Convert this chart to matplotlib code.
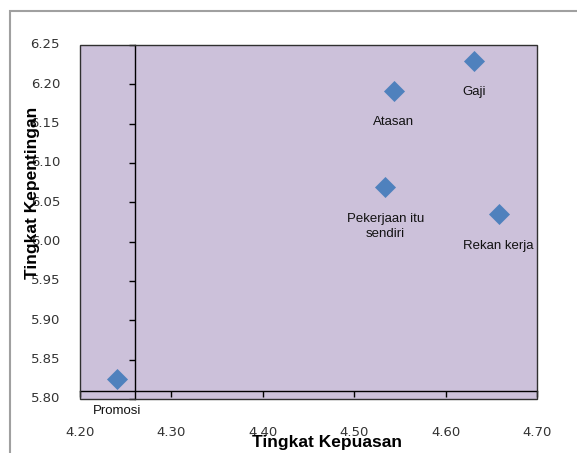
import numpy as np
import matplotlib
matplotlib.use('Agg')
import matplotlib.pyplot as plt
from matplotlib.patches import Rectangle

#data
names = ['Promosi', 'Atasan', 'Gaji', 'Pekerjaan itu\nsendiri', 'Rekan kerja']
kepuasan = [4.241, 4.543, 4.631, 4.534, 4.658]  #x values
kepentingan = [5.825, 6.192, 6.230, 6.069, 6.035]  #y values

x_ticks = [4.20, 4.30, 4.40, 4.50, 4.60, 4.70]
y_ticks = [5.80, 5.85, 5.90, 5.95, 6.00, 6.05, 6.10, 6.15, 6.20, 6.25]
x_cross = 4.26  #where the vertical axis crosses
y_cross = 5.81  #where the horizontal axis crosses

W, H = 577, 453
fig = plt.figure(figsize=(W / 100, H / 100), dpi=100)
ax = fig.add_axes([80 / W, 1 - 399 / H, (537 - 80) / W, (399 - 45) / H])
ax.set_facecolor('#ccc1da')

#outer chart border (cut off at the right and bottom)
fig.add_artist(Rectangle((10 / W, -0.1), 1.2, (H - 11) / H + 0.1, transform=fig.transFigure,
                         fill=False, edgecolor='#a0a0a0', lw=1.5))

ax.scatter(kepuasan, kepentingan, marker='D', s=115, color='#4f81bd', zorder=3, linewidths=0)

ax.set_xlim(x_ticks[0], x_ticks[-1])
ax.set_ylim(y_ticks[0], y_ticks[-1])

#axes crossing inside the plot
ax.spines['left'].set_position(('data', x_cross))
ax.spines['bottom'].set_position(('data', y_cross))
ax.spines['top'].set_visible(False)
ax.spines['right'].set_visible(False)
for s in ['left', 'bottom']:
    ax.spines[s].set_linewidth(1.0)
    ax.spines[s].set_color('black')
ax.add_patch(Rectangle((0, 0), 1, 1, transform=ax.transAxes, fill=False,
                       edgecolor='#303030', lw=1.0, zorder=4, clip_on=False))

ax.set_xticks(x_ticks)
ax.set_yticks(y_ticks)
ax.tick_params(direction='out', length=4, width=1, labelleft=False, labelbottom=False)

#tick labels sit at the plot edges (Excel "low" position)
for y in y_ticks:
    ax.annotate('%.2f' % y, xy=(0, y), xycoords=('axes fraction', 'data'), xytext=(-14.4, 0),
                textcoords='offset points', ha='right', va='center', fontsize=9.5, color='#333333')
for x in x_ticks:
    ax.annotate('%.2f' % x, xy=(x, 0), xycoords=('data', 'axes fraction'), xytext=(0, -23.8),
                textcoords='offset points', ha='center', va='center', fontsize=9.5, color='#333333')

#point labels
for n, x, y in zip(names, kepuasan, kepentingan):
    ax.annotate(n, xy=(x, y), xytext=(0, -18.5), textcoords='offset points', ha='center', va='top',
                fontsize=9.5, family='Liberation Sans', color='#111111', linespacing=1.35,
                annotation_clip=False)

fig.text(327 / W, 1 - 442 / H, 'Tingkat Kepuasan', ha='center', va='center', fontsize=12.5,
         fontweight='bold', family='Liberation Sans')
fig.text(33 / W, 1 - 193 / H, 'Tingkat Kepentingan', ha='center', va='center', rotation=90,
         fontsize=12.5, fontweight='bold', family='Liberation Sans')

fig.savefig('out.png', dpi=100)
